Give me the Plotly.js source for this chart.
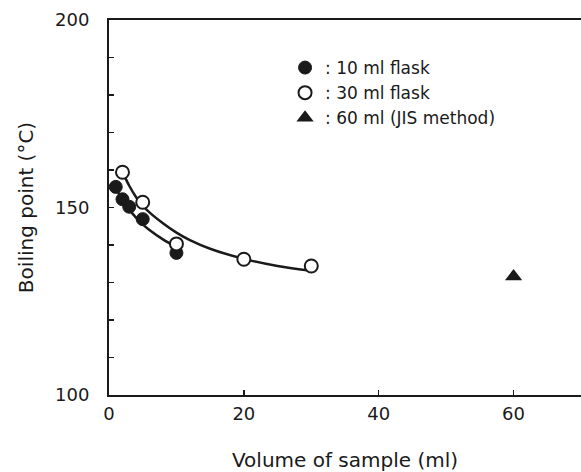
<!DOCTYPE html>
<html>
<head>
<meta charset="utf-8">
<script src="https://cdn.plot.ly/plotly-3.0.1.min.js"></script>
<style>html,body{margin:0;padding:0;background:#fff;}#chart{width:581px;height:472px;}</style>
</head>
<body>
<div id="chart"></div>
<script>
// Data
var flask10X = [1, 2, 3, 5, 10];
var flask10Y = [155.5, 152.2, 150.2, 146.9, 137.9];
var flask30X = [2, 5, 10, 20, 30];
var flask30Y = [159.4, 151.4, 140.3, 136.2, 134.4];
var jisX = [60];
var jisY = [131.6];
// Fitted curves
var fit10X = [1, 2, 3, 4, 5, 6, 8, 9.8];
var fit10Y = [155.3, 152.0, 149.5, 147.3, 145.5, 144.0, 141.5, 139.6];
var fit30X = [2, 3, 4, 5, 6, 8, 10, 12, 15, 20, 25, 30];
var fit30Y = [159.5, 155.8, 152.8, 150.5, 148.7, 145.8, 143.3, 141.3, 139.0, 136.3, 134.4, 133.1];
var legendNames = [': 10 ml flask', ': 30 ml flask', ': 60 ml (JIS method)'];
var xTickVals = [0, 20, 40, 60];
var yTickVals = [100, 150, 200];
var xTitle = 'Volume of sample (ml)';
var yTitle = 'Boiling point (°C)';

var ink = '#1a1a1a';
var traces = [
  {x: fit10X, y: fit10Y, mode: 'lines', line: {color: ink, width: 2.5, shape: 'spline'}, showlegend: false, hoverinfo: 'skip'},
  {x: fit30X, y: fit30Y, mode: 'lines', line: {color: ink, width: 2.5, shape: 'spline'}, showlegend: false, hoverinfo: 'skip'},
  {x: flask10X, y: flask10Y, mode: 'markers', name: legendNames[0],
   marker: {symbol: 'circle', size: 13, color: ink, line: {color: ink, width: 1}}},
  {x: flask30X, y: flask30Y, mode: 'markers', name: legendNames[1],
   marker: {symbol: 'circle', size: 13, color: '#ffffff', line: {color: ink, width: 2}}},
  {x: jisX, y: jisY, mode: 'markers', name: legendNames[2],
   marker: {symbol: 'triangle-up', size: 15, color: ink, line: {color: ink, width: 0}}}
];

var layout = {
  width: 581, height: 472,
  margin: {l: 109, r: 0, t: 20, b: 77},
  paper_bgcolor: '#ffffff', plot_bgcolor: '#ffffff',
  font: {family: 'DejaVu Sans, Verdana, sans-serif', color: ink, size: 18},
  showlegend: true,
  legend: {x: 0.373, y: 0.92, xanchor: 'left', yanchor: 'top', bgcolor: 'rgba(0,0,0,0)',
           font: {size: 17, color: ink}, tracegroupgap: 0, itemwidth: 30},
  xaxis: {
    range: [0, 70], tickvals: xTickVals, ticktext: xTickVals.map(String),
    showline: true, linecolor: ink, linewidth: 2, mirror: true,
    ticks: 'inside', ticklen: 5, tickwidth: 1.5, tickcolor: ink,
    showgrid: false, zeroline: false, ticklabelstandoff: 1,
    title: {text: xTitle, font: {size: 20, color: ink}, standoff: 32}
  },
  yaxis: {
    range: [100, 200], tickvals: yTickVals, ticktext: yTickVals.map(String),
    showline: true, linecolor: ink, linewidth: 2,
    ticks: 'inside', ticklen: 5, tickwidth: 1.5, tickcolor: ink,
    minor: {dtick: 10, ticks: 'inside', ticklen: 5, tickwidth: 1.5, tickcolor: ink, showgrid: false},
    showgrid: false, zeroline: false, ticklabelstandoff: 14,
    title: {text: yTitle, font: {size: 20, color: ink}, standoff: 16}
  }
};

Plotly.newPlot('chart', traces, layout, {displayModeBar: false, staticPlot: true});
</script>
</body>
</html>
